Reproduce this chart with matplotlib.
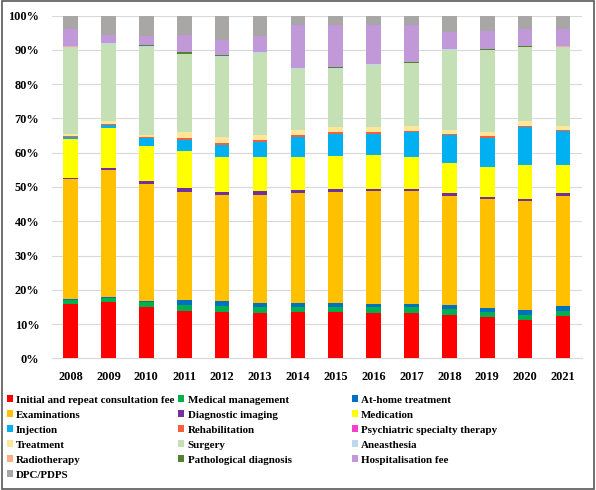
import numpy as np
import matplotlib
matplotlib.use("Agg")
import matplotlib.pyplot as plt
from matplotlib.patches import Patch, Rectangle

# Share of each item per year (%)
years = ['2008', '2009', '2010', '2011', '2012', '2013', '2014',
         '2015', '2016', '2017', '2018', '2019', '2020', '2021']

initial      = [15.8, 16.3, 15.1, 13.7, 13.5, 13.1, 13.5, 13.5, 13.3, 13.3, 12.7, 12.0, 11.2, 12.4]
medical_mgmt = [1.2, 1.4, 1.3, 1.8, 1.8, 1.8, 1.4, 1.6, 1.6, 1.6, 1.6, 1.5, 1.4, 1.4]
at_home      = [0.4, 0.2, 0.2, 1.5, 1.3, 1.2, 1.2, 1.1, 0.9, 0.9, 1.2, 1.2, 1.4, 1.4]
examinations = [34.8, 37.1, 34.3, 31.6, 31.0, 31.6, 32.1, 32.4, 32.9, 32.9, 32.0, 31.7, 31.9, 32.3]
diag_imaging = [0.4, 0.5, 0.9, 1.1, 0.9, 1.0, 0.8, 0.7, 0.8, 0.8, 0.7, 0.7, 0.7, 0.7]
medication   = [11.5, 11.8, 10.2, 10.8, 10.3, 10.1, 9.8, 9.8, 9.8, 9.3, 8.9, 8.6, 9.9, 8.2]
injection    = [0.6, 0.7, 2.4, 3.3, 3.4, 4.2, 5.9, 6.4, 6.2, 7.2, 8.0, 8.7, 10.9, 10.0]
rehab        = [0.1, 0.3, 0.1, 0.4, 0.6, 0.7, 0.5, 0.5, 0.5, 0.4, 0.4, 0.5, 0.4, 0.3]
psych        = [0.05] * 14
treatment    = [0.65, 0.95, 0.65, 1.75, 1.65, 1.45, 1.35, 1.35, 1.45, 1.35, 1.15, 1.15, 1.35, 1.15]
surgery      = [25.2, 22.3, 25.8, 22.8, 23.5, 23.8, 17.7, 17.1, 18.2, 18.3, 23.3, 23.9, 21.7, 22.8]
anaesthesia  = [0.3, 0.3, 0.2, 0.1, 0.1, 0.4, 0.3, 0.3, 0.1, 0.1, 0.2, 0.05, 0.05, 0.3]
radiotherapy = [0.05] * 14
pathological = [0.05, 0.05, 0.05, 0.35, 0.35, 0.05, 0.05, 0.05, 0.15, 0.25, 0.05, 0.2, 0.2, 0.05]
hospital_fee = [5.0, 2.5, 2.8, 5.2, 4.5, 4.5, 12.5, 12.3, 11.2, 10.7, 5.0, 5.1, 5.0, 4.9]
dpc          = [3.9, 5.5, 5.9, 5.5, 7.0, 6.0, 2.8, 2.8, 2.8, 2.8, 4.7, 4.6, 3.8, 4.0]

labels = ['Initial and repeat consultation fee', 'Medical management', 'At-home treatment',
          'Examinations', 'Diagnostic imaging', 'Medication',
          'Injection', 'Rehabilitation', 'Psychiatric specialty therapy',
          'Treatment', 'Surgery', 'Aneasthesia',
          'Radiotherapy', 'Pathological diagnosis', 'Hospitalisation fee',
          'DPC/PDPS']
series = [initial, medical_mgmt, at_home, examinations, diag_imaging, medication,
          injection, rehab, psych, treatment, surgery, anaesthesia,
          radiotherapy, pathological, hospital_fee, dpc]
colors = ['#FF0000', '#00B050', '#0070C0', '#FFC000', '#7030A0', '#FFFF00',
          '#00B0F0', '#F4603E', '#F53FC8', '#FFE699', '#C5E0B4', '#BDD7EE',
          '#F4B183', '#548235', '#C198D8', '#A9A6A6']

plt.rcParams['font.family'] = ['Liberation Serif', 'DejaVu Serif']
plt.rcParams['font.weight'] = 'bold'

fig = plt.figure(figsize=(5.96, 4.90), dpi=100)
ax = fig.add_axes([0.0867, 0.2688, 0.8898, 0.6992])

x = np.arange(len(years))
bottom = np.zeros(len(years))
for vals, lab, col in zip(series, labels, colors):
    ax.bar(x, vals, width=0.385, bottom=bottom, color=col, label=lab, zorder=3)
    bottom += np.array(vals)

ax.set_xlim(-0.5, len(years) - 0.5)
ax.set_ylim(0, 100)
ax.set_yticks(range(0, 101, 10))
ax.set_yticklabels([f'{v}%' for v in range(0, 101, 10)], fontsize=8.8, fontweight='bold')
ax.set_xticks(x)
ax.set_xticklabels(years, fontsize=8.8, fontweight='bold')
ax.tick_params(length=0, pad=9)
ax.tick_params(axis='y', pad=9)
ax.grid(axis='y', color='#D9D9D9', linewidth=0.8, zorder=0)
for s in ['top', 'right', 'left']:
    ax.spines[s].set_visible(False)
ax.spines['bottom'].set_color('#D9D9D9')

# legend in three columns, filled row by row
handles = [Patch(facecolor=c, edgecolor='none') for c in colors]
col_x = [0.011, 0.299, 0.590]
for j in range(3):
    idx = list(range(j, len(labels), 3))
    fig.legend([handles[i] for i in idx], [labels[i] for i in idx],
               loc='upper left', bbox_to_anchor=(col_x[j], 0.193), frameon=False,
               fontsize=7.9, handlelength=0.55, handleheight=0.55,
               handletextpad=0.3, labelspacing=0.53, borderaxespad=0, borderpad=0)

fig.patches.append(Rectangle((0.003, 0.003), 0.994, 0.994, transform=fig.transFigure,
                             fill=False, edgecolor='#595959', linewidth=1.2))

fig.savefig('out.png', dpi=100)
